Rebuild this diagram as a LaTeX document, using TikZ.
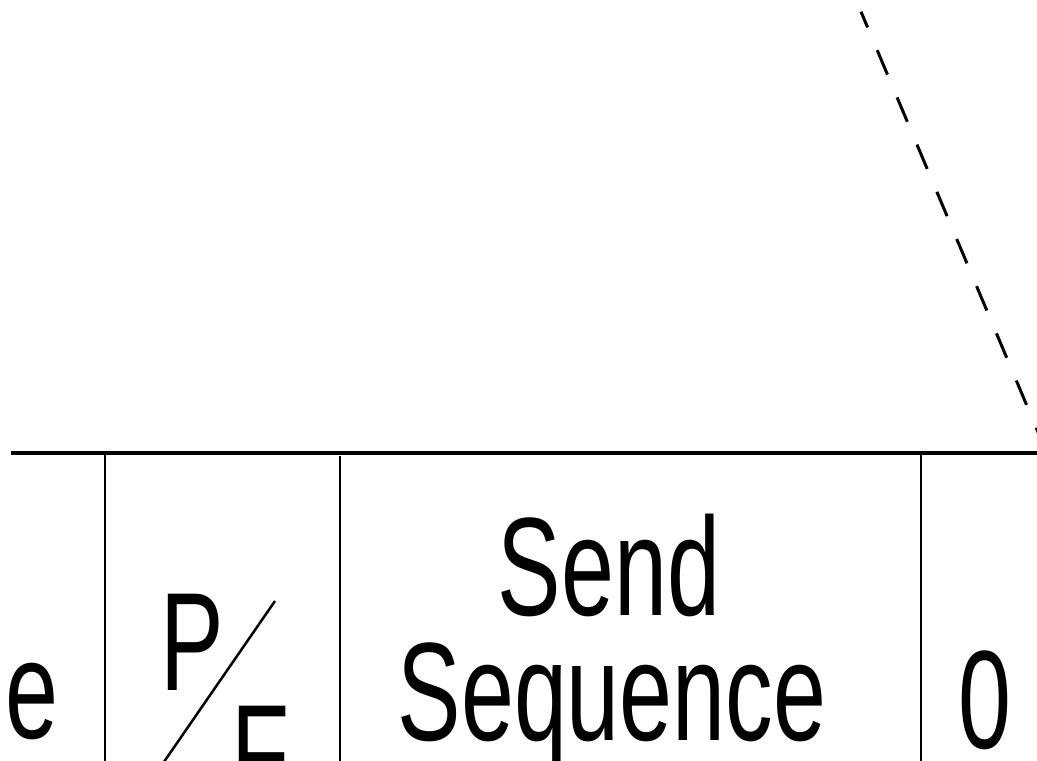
\documentclass[tikz,border=0pt]{standalone}
\usepackage{fontspec}
\newfontfamily\narrowsans[FakeStretch=0.68]{Liberation Sans}
\begin{document}
\begin{tikzpicture}[x=1pt,y=-1pt,
  rule/.style={line width=4pt},
  sep/.style={line width=2.5pt},
  guide/.style={line width=3pt, dash pattern=on 26.4pt off 24.8pt, dash phase=9.4pt},
  lbl/.style={inner sep=0pt, font=\narrowsans\fontsize{140}{125}\selectfont}]
\useasboundingbox (0,0) rectangle (1037,761);
\clip (0,0) rectangle (1037,761);
% table frame
\coordinate (hl) at (11,453);
\coordinate (hr) at (1040,453);
\draw[rule] (hl) -- (hr);
\coordinate (v1t) at (105,453);  \coordinate (v1b) at (105,765);
\coordinate (v2t) at (340,456);  \coordinate (v2b) at (340,765);
\coordinate (v3t) at (921,453);  \coordinate (v3b) at (921,765);
\draw[sep] (v1t) -- (v1b);
\draw[sep] (v2t) -- (v2b);
\draw[sep] (v3t) -- (v3b);
% dashed guide
\coordinate (ga) at (861,11.7);
\coordinate (gb) at (1046.4,452);
\draw[guide] (ga) -- (gb);
% texts
\node[lbl, anchor=base west] (e) at (5,738) {e};
\node[lbl, anchor=base west] (p) at (160,690) {P};
\node[lbl, anchor=base west] (f) at (231,802) {F};
\coordinate (sa) at (275,601);
\coordinate (sb) at (157,772);
\draw[sep] (sa) -- (sb);
\node[lbl, anchor=base] (send) at (609,615) {Send};
\node[lbl, anchor=base] (seq) at (612,740) {Sequence};
\node[lbl, anchor=base west] (zero) at (958,748) {0};
\end{tikzpicture}
\end{document}
